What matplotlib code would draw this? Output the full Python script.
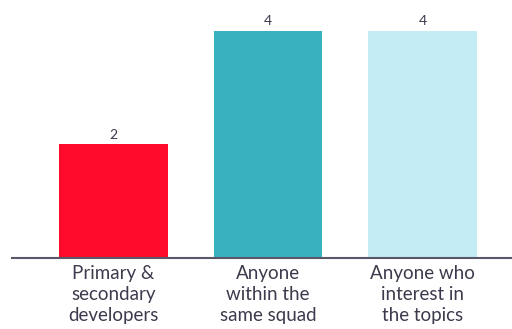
import matplotlib
matplotlib.use("Agg")
import matplotlib.pyplot as plt

categories = ["Primary &\nsecondary\ndevelopers", "Anyone\nwithin the\nsame squad", "Anyone who\ninterest in\nthe topics"]
values = [2, 4, 4]
colors = ["#FF0A2A", "#3AB1BF", "#C3ECF5"]

plt.rcParams['font.family'] = ['Lato', 'DejaVu Sans']
text_color = "#3B3B4D"

fig = plt.figure(figsize=(5.12, 3.29), dpi=100)
ax = fig.add_axes([12 / 512, 71 / 329, 1 - 12 / 512, 258 / 329])

x = range(len(categories))
bars = ax.bar(x, values, width=0.705, color=colors)

for b, v in zip(bars, values):
    ax.text(b.get_x() + b.get_width() / 2, v + 0.07, str(v), ha='center', va='bottom',
            fontsize=10, color=text_color)

ax.set_xlim(-0.657, 2.579)
ax.set_ylim(0, 4.546)
ax.set_xticks(list(x))
ax.set_xticklabels(categories, fontsize=13.5, color=text_color, linespacing=1.3)
ax.tick_params(axis='x', length=0, pad=5)
ax.set_yticks([])
for s in ['top', 'right', 'left']:
    ax.spines[s].set_visible(False)
ax.spines['bottom'].set_color("#585868")
ax.spines['bottom'].set_linewidth(1.5)

fig.savefig("out.png", dpi=100)
